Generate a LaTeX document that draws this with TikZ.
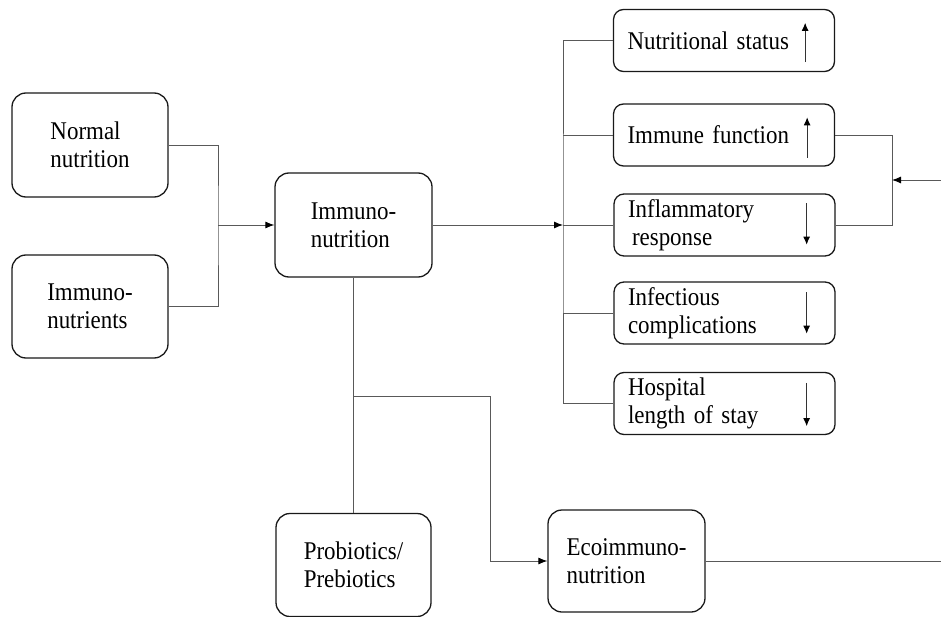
\documentclass[tikz,border=0pt]{standalone}
\usepackage{fontspec}
\setmainfont{Liberation Serif}[FakeStretch=0.9]
\usetikzlibrary{arrows.meta,calc}
\begin{document}
\begin{tikzpicture}[x=1pt,y=-1pt,
  bigbox/.style={draw=black!90,line width=1.3pt,rounded corners=14pt,inner sep=0pt,
    font=\fontsize{25.5}{28}\selectfont,align=left},
  smallbox/.style={draw=black!90,line width=1.3pt,rounded corners=10pt,inner xsep=14pt,inner ysep=0pt,
    minimum width=221pt,minimum height=62pt,text width=193pt,
    font=\fontsize{25.5}{28}\selectfont,align=left},
  conn/.style={draw=black!65,line width=0.9pt},
  tip/.style={-{Latex[length=9pt,width=7pt,black]}},
  updown/.style={draw=black!80,line width=0.9pt,-{Latex[length=8pt,width=7pt,black]}}]
\useasboundingbox (0,0) rectangle (941,617);
% left boxes
\node[bigbox,minimum width=156pt,minimum height=104pt] (nn) at (90,145) {Normal\\nutrition};
\node[bigbox,minimum width=156pt,minimum height=103pt] (inu) at (90,306.5) {Immuno-\\nutrients};
\node[bigbox,minimum width=157pt,minimum height=104pt] (imn) at (353.5,225) {Immuno-\\nutrition};
\node[bigbox,minimum width=155pt,minimum height=103pt] (pro) at (353.5,565) {Probiotics/\\Prebiotics};
\node[bigbox,minimum width=157pt,minimum height=102pt] (eco) at (626.5,561) {Ecoimmuno-\\nutrition};
% right boxes
\node[smallbox] (ns) at (724,40.5) {Nutritional status};
\node[smallbox] (imf) at (724,135) {Immune function};
\node[smallbox] (inf) at (724.5,225) {Inflammatory\\\hspace{4pt}response};
\node[smallbox] (ic) at (724.5,313) {Infectious\\complications};
\node[smallbox] (hos) at (724.5,403.5) {Hospital\\length of stay};
% arrows inside right boxes
\draw[updown] ($(ns.south east)+(-30,-10)$) -- ($(ns.north east)+(-30,14)$);
\draw[updown] ($(imf.south east)+(-28,-9)$) -- ($(imf.north east)+(-28,14)$);
\draw[updown] ($(inf.north east)+(-29,10)$) -- ($(inf.south east)+(-29,-12)$);
\draw[updown] ($(ic.north east)+(-29,11)$) -- ($(ic.south east)+(-29,-11)$);
\draw[updown] ($(hos.north east)+(-29,11)$) -- ($(hos.south east)+(-29,-9)$);
% coordinates
\coordinate (j1) at (218,225);
\coordinate (bus) at (563,225);
\coordinate (rj) at (892,180);
\coordinate (rin) at (941,180);
\coordinate (br) at (353.5,396);
\coordinate (turn) at (490,396);
\coordinate (eout) at (941,561);
% connectors
\draw[conn] (nn.east) -| (j1) |- (inu.east);
\draw[conn,tip] (j1) -- (imn.west);
\draw[conn,tip] (imn.east) -- (bus);
\draw[conn] (bus) -- (inf.west);
\draw[conn] (ns.west) -| (bus) |- (hos.west);
\draw[conn] (imf.west) -- (imf.west -| bus);
\draw[conn] (ic.west) -- (ic.west -| bus);
\draw[conn] (imf.east) -| (rj) |- (inf.east);
\draw[conn,tip] (rin) -- (rj);
\draw[conn] (imn.south) -- (pro.north);
\draw[conn,tip] (br) -- (turn) |- (eco.west);
\draw[conn] (eco.east) -- (eout);
\end{tikzpicture}
\end{document}
